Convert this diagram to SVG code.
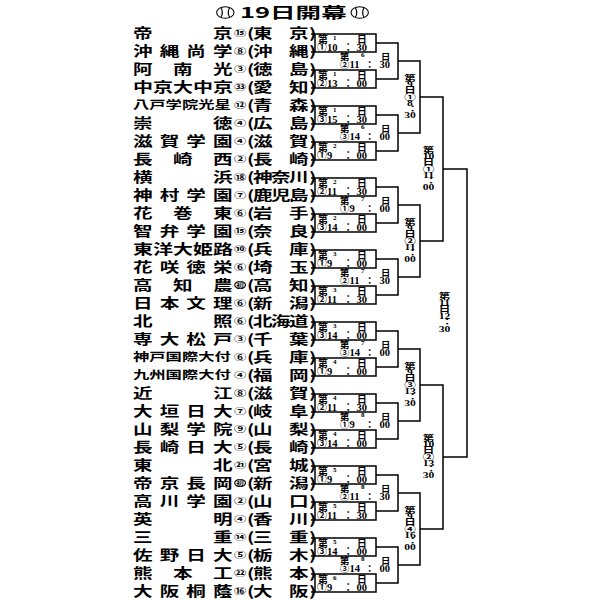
<svg xmlns="http://www.w3.org/2000/svg" width="600" height="600" viewBox="0 0 600 600">
<style>
.nm{font-family:"Noto Sans CJK JP","Noto Sans CJK SC",sans-serif;font-weight:700;font-size:13.5px;fill:#000}
.n6{font-size:11.5px}
.cn{font-family:"Noto Sans CJK JP",sans-serif;font-weight:700;font-size:8.5px;fill:#000}
.hz{font-family:"Noto Sans CJK JP",sans-serif;font-weight:700;font-size:5.2px;text-anchor:middle}
.lb{font-family:"Noto Sans CJK JP",sans-serif;font-size:9.8px;font-weight:700;fill:#000}
.r2{font-size:9.3px}
.d{font-family:"Liberation Serif",serif;font-size:10.5px;font-weight:700}
.s{font-family:"Liberation Serif",serif;font-size:7px;font-weight:700}
.vl{font-family:"Liberation Serif","Noto Sans CJK JP",serif;font-size:8px;font-weight:700;text-anchor:middle}
.ln{fill:none;stroke:#000;stroke-width:1.5}
.ttl{font-family:"Noto Sans CJK JP",sans-serif;font-weight:700;font-size:15px}
.ball{fill:none;stroke:#000;stroke-width:1.1}
.hc{fill:none;stroke:#000;stroke-width:0.8}
</style>
<rect width="600" height="600" fill="#fff"/>
<g id="title">
<ellipse class="ball" cx="225.3" cy="12.5" rx="8.7" ry="5.8"/>
<path class="ball" d="M220.9 7.5 Q223.8 12.5 220.9 17.5 M229.7 7.5 Q226.8 12.5 229.7 17.5"/>
<text class="ttl" transform="scale(1.45 1)" x="165.5" y="17.7" textLength="73.6" lengthAdjust="spacingAndGlyphs">19日開幕</text>
<ellipse class="ball" cx="359.7" cy="12.5" rx="8.7" ry="5.8"/>
<path class="ball" d="M355.3 7.5 Q358.2 12.5 355.3 17.5 M364.1 7.5 Q361.2 12.5 364.1 17.5"/>
</g>
<g id="connectors">
<path class="ln" d="M311 34H376V52H311M315 34V52 M311 70H376V88H311M315 70V88 M311 106H376V124H311M315 106V124 M311 142H376V160H311M315 142V160 M311 178H376V196H311M315 178V196 M311 214H376V232H311M315 214V232 M311 250H376V268H311M315 250V268 M311 286H376V304H311M315 286V304 M311 322H376V340H311M315 322V340 M311 358H376V376H311M315 358V376 M311 394H376V412H311M315 394V412 M311 430H376V448H311M315 430V448 M311 466H376V484H311M315 466V484 M311 502H376V520H311M315 502V520 M311 538H376V556H311M315 538V556 M311 574H376V592H311M315 574V592"/>
<path class="ln" d="M376 43H398V79H376 M376 115H398V151H376 M376 187H398V223H376 M376 259H398V295H376 M376 331H398V367H376 M376 403H398V439H376 M376 475H398V511H376 M376 547H398V583H376"/>
<path class="ln" d="M398 61H420V133H398 M398 205H420V277H398 M398 349H420V421H398 M398 493H420V565H398"/>
<path class="ln" d="M420 97H443V241H420 M420 385H443V529H420"/>
<path class="ln" d="M443 169H467V457H443"/>
</g>
<g id="teams" transform="scale(1.45 1)">
<g id="team-0"><text class="nm" x="91.7 146.9" y="38.1">帝京</text><text class="cn" x="161.4" y="36.2">⑮</text><text class="nm" x="170.3 174.5 199.3 213.1" y="38.1">(東京)</text></g>
<g id="team-1"><text class="nm" x="91.7 110.1 128.5 146.9" y="56.1">沖縄尚学</text><text class="cn" x="161.4" y="54.2">⑧</text><text class="nm" x="170.3 174.5 199.3 213.1" y="56.1">(沖縄)</text></g>
<g id="team-2"><text class="nm" x="91.7 119.3 146.9" y="74.1">阿南光</text><text class="cn" x="161.4" y="72.2">③</text><text class="nm" x="170.3 174.5 199.3 213.1" y="74.1">(徳島)</text></g>
<g id="team-3"><text class="nm" x="91.7" y="92.1" textLength="69" lengthAdjust="spacingAndGlyphs">中京大中京</text><text class="cn" x="161.4" y="90.2">㉝</text><text class="nm" x="170.3 174.5 199.3 213.1" y="92.1">(愛知)</text></g>
<g id="team-4"><text class="nm n6" x="91.7" y="109.4" textLength="67.5" lengthAdjust="spacingAndGlyphs">八戸学院光星</text><text class="cn" x="161.4" y="108.2">⑫</text><text class="nm" x="170.3 174.5 199.3 213.1" y="110.1">(青森)</text></g>
<g id="team-5"><text class="nm" x="91.7 146.9" y="128.1">崇徳</text><text class="cn" x="161.4" y="126.2">④</text><text class="nm" x="170.3 174.5 199.3 213.1" y="128.1">(広島)</text></g>
<g id="team-6"><text class="nm" x="91.7 110.1 128.5 146.9" y="146.1">滋賀学園</text><text class="cn" x="161.4" y="144.2">④</text><text class="nm" x="170.3 174.5 199.3 213.1" y="146.1">(滋賀)</text></g>
<g id="team-7"><text class="nm" x="91.7 119.3 146.9" y="164.1">長崎西</text><text class="cn" x="161.4" y="162.2">②</text><text class="nm" x="170.3 174.5 199.3 213.1" y="164.1">(長崎)</text></g>
<g id="team-8"><text class="nm" x="91.7 146.9" y="182.1">横浜</text><text class="cn" x="161.4" y="180.2">⑱</text><text class="nm" x="170.3 174.5 186.9 199.3 213.1" y="182.1">(神奈川)</text></g>
<g id="team-9"><text class="nm" x="91.7 110.1 128.5 146.9" y="200.1">神村学園</text><text class="cn" x="161.4" y="198.2">⑦</text><text class="nm" x="170.3 174.5 186.9 199.3 213.1" y="200.1">(鹿児島)</text></g>
<g id="team-10"><text class="nm" x="91.7 119.3 146.9" y="218.1">花巻東</text><text class="cn" x="161.4" y="216.2">⑥</text><text class="nm" x="170.3 174.5 199.3 213.1" y="218.1">(岩手)</text></g>
<g id="team-11"><text class="nm" x="91.7 110.1 128.5 146.9" y="236.1">智弁学園</text><text class="cn" x="161.4" y="234.2">⑮</text><text class="nm" x="170.3 174.5 199.3 213.1" y="236.1">(奈良)</text></g>
<g id="team-12"><text class="nm" x="91.7" y="254.1" textLength="69" lengthAdjust="spacingAndGlyphs">東洋大姫路</text><text class="cn" x="161.4" y="252.2">⑩</text><text class="nm" x="170.3 174.5 199.3 213.1" y="254.1">(兵庫)</text></g>
<g id="team-13"><text class="nm" x="91.7 110.1 128.5 146.9" y="272.1">花咲徳栄</text><text class="cn" x="161.4" y="270.2">⑥</text><text class="nm" x="170.3 174.5 199.3 213.1" y="272.1">(埼玉)</text></g>
<g id="team-14"><text class="nm" x="91.7 119.3 146.9" y="290.1">高知農</text><circle class="hc" cx="165.6" cy="285" r="3.7"/><text class="hz" x="165.6" y="286.9">初</text><text class="nm" x="170.3 174.5 199.3 213.1" y="290.1">(高知)</text></g>
<g id="team-15"><text class="nm" x="91.7 110.1 128.5 146.9" y="308.1">日本文理</text><text class="cn" x="161.4" y="306.2">⑥</text><text class="nm" x="170.3 174.5 199.3 213.1" y="308.1">(新潟)</text></g>
<g id="team-16"><text class="nm" x="91.7 146.9" y="326.1">北照</text><text class="cn" x="161.4" y="324.2">⑥</text><text class="nm" x="170.3 174.5 186.9 199.3 213.1" y="326.1">(北海道)</text></g>
<g id="team-17"><text class="nm" x="91.7 110.1 128.5 146.9" y="344.1">専大松戸</text><text class="cn" x="161.4" y="342.2">③</text><text class="nm" x="170.3 174.5 199.3 213.1" y="344.1">(千葉)</text></g>
<g id="team-18"><text class="nm n6" x="91.7" y="361.4" textLength="67.5" lengthAdjust="spacingAndGlyphs">神戸国際大付</text><text class="cn" x="161.4" y="360.2">⑥</text><text class="nm" x="170.3 174.5 199.3 213.1" y="362.1">(兵庫)</text></g>
<g id="team-19"><text class="nm n6" x="91.7" y="379.4" textLength="67.5" lengthAdjust="spacingAndGlyphs">九州国際大付</text><text class="cn" x="161.4" y="378.2">④</text><text class="nm" x="170.3 174.5 199.3 213.1" y="380.1">(福岡)</text></g>
<g id="team-20"><text class="nm" x="91.7 146.9" y="398.1">近江</text><text class="cn" x="161.4" y="396.2">⑧</text><text class="nm" x="170.3 174.5 199.3 213.1" y="398.1">(滋賀)</text></g>
<g id="team-21"><text class="nm" x="91.7 110.1 128.5 146.9" y="416.1">大垣日大</text><text class="cn" x="161.4" y="414.2">⑦</text><text class="nm" x="170.3 174.5 199.3 213.1" y="416.1">(岐阜)</text></g>
<g id="team-22"><text class="nm" x="91.7 110.1 128.5 146.9" y="434.1">山梨学院</text><text class="cn" x="161.4" y="432.2">⑨</text><text class="nm" x="170.3 174.5 199.3 213.1" y="434.1">(山梨)</text></g>
<g id="team-23"><text class="nm" x="91.7 110.1 128.5 146.9" y="452.1">長崎日大</text><text class="cn" x="161.4" y="450.2">⑤</text><text class="nm" x="170.3 174.5 199.3 213.1" y="452.1">(長崎)</text></g>
<g id="team-24"><text class="nm" x="91.7 146.9" y="470.1">東北</text><text class="cn" x="161.4" y="468.2">㉑</text><text class="nm" x="170.3 174.5 199.3 213.1" y="470.1">(宮城)</text></g>
<g id="team-25"><text class="nm" x="91.7 110.1 128.5 146.9" y="488.1">帝京長岡</text><circle class="hc" cx="165.6" cy="483" r="3.7"/><text class="hz" x="165.6" y="484.9">初</text><text class="nm" x="170.3 174.5 199.3 213.1" y="488.1">(新潟)</text></g>
<g id="team-26"><text class="nm" x="91.7 110.1 128.5 146.9" y="506.1">高川学園</text><text class="cn" x="161.4" y="504.2">②</text><text class="nm" x="170.3 174.5 199.3 213.1" y="506.1">(山口)</text></g>
<g id="team-27"><text class="nm" x="91.7 146.9" y="524.1">英明</text><text class="cn" x="161.4" y="522.2">④</text><text class="nm" x="170.3 174.5 199.3 213.1" y="524.1">(香川)</text></g>
<g id="team-28"><text class="nm" x="91.7 146.9" y="542.1">三重</text><text class="cn" x="161.4" y="540.2">⑭</text><text class="nm" x="170.3 174.5 199.3 213.1" y="542.1">(三重)</text></g>
<g id="team-29"><text class="nm" x="91.7 110.1 128.5 146.9" y="560.1">佐野日大</text><text class="cn" x="161.4" y="558.2">⑤</text><text class="nm" x="170.3 174.5 199.3 213.1" y="560.1">(栃木)</text></g>
<g id="team-30"><text class="nm" x="91.7 119.3 146.9" y="578.1">熊本工</text><text class="cn" x="161.4" y="576.2">㉒</text><text class="nm" x="170.3 174.5 199.3 213.1" y="578.1">(熊本)</text></g>
<g id="team-31"><text class="nm" x="91.7 110.1 128.5 146.9" y="596.1">大阪桐蔭</text><text class="cn" x="161.4" y="594.2">⑯</text><text class="nm" x="170.3 174.5 199.3 213.1" y="596.1">(大阪)</text></g>
</g>
<g id="round1">
<g id="m1"><text class="lb" y="42.6"><tspan x="318">第</tspan><tspan class="s" x="333" y="40">1</tspan><tspan x="357" y="42.6">日</tspan></text><text class="lb" y="51.2"><tspan x="317">①</tspan><tspan class="d" x="327">10</tspan><tspan x="343.3">：</tspan><tspan class="d" x="356.5">30</tspan></text></g>
<g id="m2"><text class="lb" y="78.6"><tspan x="318">第</tspan><tspan class="s" x="333" y="76">1</tspan><tspan x="357" y="78.6">日</tspan></text><text class="lb" y="87.2"><tspan x="317">②</tspan><tspan class="d" x="327">13</tspan><tspan x="343.3">：</tspan><tspan class="d" x="356.5">00</tspan></text></g>
<g id="m3"><text class="lb" y="114.6"><tspan x="318">第</tspan><tspan class="s" x="333" y="112">1</tspan><tspan x="357" y="114.6">日</tspan></text><text class="lb" y="123.2"><tspan x="317">③</tspan><tspan class="d" x="327">15</tspan><tspan x="343.3">：</tspan><tspan class="d" x="356.5">30</tspan></text></g>
<g id="m4"><text class="lb" y="150.6"><tspan x="318">第</tspan><tspan class="s" x="333" y="148">2</tspan><tspan x="357" y="150.6">日</tspan></text><text class="lb" y="159.2"><tspan x="317">①</tspan><tspan class="d" x="327">9</tspan><tspan x="343.3">：</tspan><tspan class="d" x="356.5">00</tspan></text></g>
<g id="m5"><text class="lb" y="186.6"><tspan x="318">第</tspan><tspan class="s" x="333" y="184">2</tspan><tspan x="357" y="186.6">日</tspan></text><text class="lb" y="195.2"><tspan x="317">②</tspan><tspan class="d" x="327">11</tspan><tspan x="343.3">：</tspan><tspan class="d" x="356.5">30</tspan></text></g>
<g id="m6"><text class="lb" y="222.6"><tspan x="318">第</tspan><tspan class="s" x="333" y="220">2</tspan><tspan x="357" y="222.6">日</tspan></text><text class="lb" y="231.2"><tspan x="317">③</tspan><tspan class="d" x="327">14</tspan><tspan x="343.3">：</tspan><tspan class="d" x="356.5">00</tspan></text></g>
<g id="m7"><text class="lb" y="258.6"><tspan x="318">第</tspan><tspan class="s" x="333" y="256">3</tspan><tspan x="357" y="258.6">日</tspan></text><text class="lb" y="267.2"><tspan x="317">①</tspan><tspan class="d" x="327">9</tspan><tspan x="343.3">：</tspan><tspan class="d" x="356.5">00</tspan></text></g>
<g id="m8"><text class="lb" y="294.6"><tspan x="318">第</tspan><tspan class="s" x="333" y="292">3</tspan><tspan x="357" y="294.6">日</tspan></text><text class="lb" y="303.2"><tspan x="317">②</tspan><tspan class="d" x="327">11</tspan><tspan x="343.3">：</tspan><tspan class="d" x="356.5">30</tspan></text></g>
<g id="m9"><text class="lb" y="330.6"><tspan x="318">第</tspan><tspan class="s" x="333" y="328">3</tspan><tspan x="357" y="330.6">日</tspan></text><text class="lb" y="339.2"><tspan x="317">③</tspan><tspan class="d" x="327">14</tspan><tspan x="343.3">：</tspan><tspan class="d" x="356.5">00</tspan></text></g>
<g id="m10"><text class="lb" y="366.6"><tspan x="318">第</tspan><tspan class="s" x="333" y="364">4</tspan><tspan x="357" y="366.6">日</tspan></text><text class="lb" y="375.2"><tspan x="317">①</tspan><tspan class="d" x="327">9</tspan><tspan x="343.3">：</tspan><tspan class="d" x="356.5">00</tspan></text></g>
<g id="m11"><text class="lb" y="402.6"><tspan x="318">第</tspan><tspan class="s" x="333" y="400">4</tspan><tspan x="357" y="402.6">日</tspan></text><text class="lb" y="411.2"><tspan x="317">②</tspan><tspan class="d" x="327">11</tspan><tspan x="343.3">：</tspan><tspan class="d" x="356.5">30</tspan></text></g>
<g id="m12"><text class="lb" y="438.6"><tspan x="318">第</tspan><tspan class="s" x="333" y="436">4</tspan><tspan x="357" y="438.6">日</tspan></text><text class="lb" y="447.2"><tspan x="317">③</tspan><tspan class="d" x="327">14</tspan><tspan x="343.3">：</tspan><tspan class="d" x="356.5">00</tspan></text></g>
<g id="m13"><text class="lb" y="474.6"><tspan x="318">第</tspan><tspan class="s" x="333" y="472">5</tspan><tspan x="357" y="474.6">日</tspan></text><text class="lb" y="483.2"><tspan x="317">①</tspan><tspan class="d" x="327">9</tspan><tspan x="343.3">：</tspan><tspan class="d" x="356.5">00</tspan></text></g>
<g id="m14"><text class="lb" y="510.6"><tspan x="318">第</tspan><tspan class="s" x="333" y="508">5</tspan><tspan x="357" y="510.6">日</tspan></text><text class="lb" y="519.2"><tspan x="317">②</tspan><tspan class="d" x="327">11</tspan><tspan x="343.3">：</tspan><tspan class="d" x="356.5">30</tspan></text></g>
<g id="m15"><text class="lb" y="546.6"><tspan x="318">第</tspan><tspan class="s" x="333" y="544">5</tspan><tspan x="357" y="546.6">日</tspan></text><text class="lb" y="555.2"><tspan x="317">③</tspan><tspan class="d" x="327">14</tspan><tspan x="343.3">：</tspan><tspan class="d" x="356.5">00</tspan></text></g>
<g id="m16"><text class="lb" y="582.6"><tspan x="318">第</tspan><tspan class="s" x="333" y="580">6</tspan><tspan x="357" y="582.6">日</tspan></text><text class="lb" y="591.2"><tspan x="317">①</tspan><tspan class="d" x="327">9</tspan><tspan x="343.3">：</tspan><tspan class="d" x="356.5">00</tspan></text></g>
</g>
<g id="round2">
<g id="m17"><text class="lb r2" y="60"><tspan x="340">第</tspan><tspan class="s" x="361" y="57.4">6</tspan><tspan x="381" y="60">日</tspan></text><text class="lb r2" y="68.2"><tspan x="340">②</tspan><tspan class="d" x="349.5">11</tspan><tspan x="365">：</tspan><tspan class="d" x="379.5">30</tspan></text></g>
<g id="m18"><text class="lb r2" y="132"><tspan x="340">第</tspan><tspan class="s" x="361" y="129.4">6</tspan><tspan x="381" y="132">日</tspan></text><text class="lb r2" y="140.2"><tspan x="340">③</tspan><tspan class="d" x="349.5">14</tspan><tspan x="365">：</tspan><tspan class="d" x="379.5">00</tspan></text></g>
<g id="m19"><text class="lb r2" y="204"><tspan x="340">第</tspan><tspan class="s" x="361" y="201.4">7</tspan><tspan x="381" y="204">日</tspan></text><text class="lb r2" y="212.2"><tspan x="340">①</tspan><tspan class="d" x="349.5">9</tspan><tspan x="365">：</tspan><tspan class="d" x="379.5">00</tspan></text></g>
<g id="m20"><text class="lb r2" y="276"><tspan x="340">第</tspan><tspan class="s" x="361" y="273.4">7</tspan><tspan x="381" y="276">日</tspan></text><text class="lb r2" y="284.2"><tspan x="340">②</tspan><tspan class="d" x="349.5">11</tspan><tspan x="365">：</tspan><tspan class="d" x="379.5">30</tspan></text></g>
<g id="m21"><text class="lb r2" y="348"><tspan x="340">第</tspan><tspan class="s" x="361" y="345.4">7</tspan><tspan x="381" y="348">日</tspan></text><text class="lb r2" y="356.2"><tspan x="340">③</tspan><tspan class="d" x="349.5">14</tspan><tspan x="365">：</tspan><tspan class="d" x="379.5">00</tspan></text></g>
<g id="m22"><text class="lb r2" y="420"><tspan x="340">第</tspan><tspan class="s" x="361" y="417.4">8</tspan><tspan x="381" y="420">日</tspan></text><text class="lb r2" y="428.2"><tspan x="340">①</tspan><tspan class="d" x="349.5">9</tspan><tspan x="365">：</tspan><tspan class="d" x="379.5">00</tspan></text></g>
<g id="m23"><text class="lb r2" y="492"><tspan x="340">第</tspan><tspan class="s" x="361" y="489.4">8</tspan><tspan x="381" y="492">日</tspan></text><text class="lb r2" y="500.2"><tspan x="340">②</tspan><tspan class="d" x="349.5">11</tspan><tspan x="365">：</tspan><tspan class="d" x="379.5">30</tspan></text></g>
<g id="m24"><text class="lb r2" y="564"><tspan x="340">第</tspan><tspan class="s" x="361" y="561.4">8</tspan><tspan x="381" y="564">日</tspan></text><text class="lb r2" y="572.2"><tspan x="340">③</tspan><tspan class="d" x="349.5">14</tspan><tspan x="365">：</tspan><tspan class="d" x="379.5">00</tspan></text></g>
</g>
<g id="round3">
<g id="m25"><text class="vl" transform="translate(410 0) scale(1.45 1)"><tspan x="0" y="81.3">第</tspan><tspan x="0" y="87.4">9</tspan><tspan x="0" y="93.5">日</tspan><tspan x="0" y="99.6">①</tspan><tspan x="0" y="105.7">8</tspan><tspan x="0" y="111.8">︓</tspan><tspan x="0" y="117.9">30</tspan></text></g>
<g id="m26"><text class="vl" transform="translate(410 0) scale(1.45 1)"><tspan x="0" y="225.3">第</tspan><tspan x="0" y="231.4">9</tspan><tspan x="0" y="237.5">日</tspan><tspan x="0" y="243.6">②</tspan><tspan x="0" y="249.7">11</tspan><tspan x="0" y="255.8">︓</tspan><tspan x="0" y="261.9">00</tspan></text></g>
<g id="m27"><text class="vl" transform="translate(410 0) scale(1.45 1)"><tspan x="0" y="369.3">第</tspan><tspan x="0" y="375.4">9</tspan><tspan x="0" y="381.5">日</tspan><tspan x="0" y="387.6">③</tspan><tspan x="0" y="393.7">13</tspan><tspan x="0" y="399.8">︓</tspan><tspan x="0" y="405.9">30</tspan></text></g>
<g id="m28"><text class="vl" transform="translate(410 0) scale(1.45 1)"><tspan x="0" y="513.3">第</tspan><tspan x="0" y="519.4">9</tspan><tspan x="0" y="525.5">日</tspan><tspan x="0" y="531.6">④</tspan><tspan x="0" y="537.7">16</tspan><tspan x="0" y="543.8">︓</tspan><tspan x="0" y="549.9">00</tspan></text></g>
</g>
<g id="round4">
<g id="m29"><text class="vl" transform="translate(428.5 0) scale(1.45 1)"><tspan x="0" y="153.3">第</tspan><tspan x="0" y="159.4">10</tspan><tspan x="0" y="165.5">日</tspan><tspan x="0" y="171.6">①</tspan><tspan x="0" y="177.7">11</tspan><tspan x="0" y="183.8">︓</tspan><tspan x="0" y="189.9">00</tspan></text></g>
<g id="m30"><text class="vl" transform="translate(428.5 0) scale(1.45 1)"><tspan x="0" y="441.3">第</tspan><tspan x="0" y="447.4">10</tspan><tspan x="0" y="453.5">日</tspan><tspan x="0" y="459.6">②</tspan><tspan x="0" y="465.7">13</tspan><tspan x="0" y="471.8">︓</tspan><tspan x="0" y="477.9">30</tspan></text></g>
</g>
<g id="final">
<g id="m31"><text class="vl" transform="translate(444.5 0) scale(1.45 1)"><tspan x="0" y="299.4">第</tspan><tspan x="0" y="305.9">11</tspan><tspan x="0" y="312.4">日</tspan><tspan x="0" y="318.9">12</tspan><tspan x="0" y="325.4">︓</tspan><tspan x="0" y="331.9">30</tspan></text></g>
</g>
</svg>
